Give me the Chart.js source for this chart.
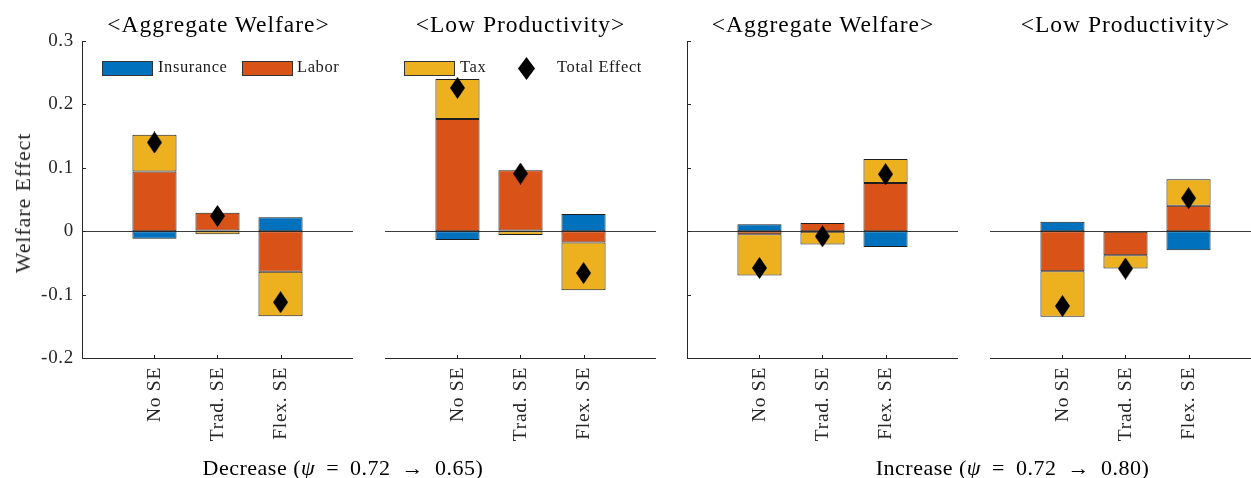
<!DOCTYPE html>
<html>
<head>
<meta charset="utf-8">
<script src="https://cdn.jsdelivr.net/npm/chart.js@4.4.1/dist/chart.umd.min.js"></script>
<style>
  html, body { margin: 0; padding: 0; background: #fff; overflow: hidden; width: 1251px; height: 478px; }
  body { position: relative; font-family: "Liberation Serif", "Times New Roman", serif; color: #1a1a1a; }
  canvas.panel { position: absolute; top: 0; }
  .txt { position: absolute; white-space: nowrap; line-height: 1; }
  .ttl { font-size: 23.5px; letter-spacing: 1px; top: 12.75px; transform: translateX(-50%); color: #000; }
  .xlab { font-size: 22px; letter-spacing: 0.5px; top: 457px; transform: translateX(-50%); color: #000; }
  .xlab .op { margin: 0 5px; }
  .ylab { font-size: 22px; letter-spacing: 0.9px; left: 22.5px; top: 203px; transform: translate(-50%, -50%) rotate(-90deg); color: #262626; }
  .leg { font-size: 16.5px; letter-spacing: 0.6px; top: 58.75px; }
  .sw { position: absolute; top: 61px; width: 49px; height: 13px; border: 1px solid #333; }
  svg.dia { position: absolute; }
</style>
</head>
<body>

<canvas id="p1" class="panel" width="363" height="478" style="left:0px"></canvas>
<canvas id="p2" class="panel" width="291" height="478" style="left:375px"></canvas>
<canvas id="p3" class="panel" width="291" height="478" style="left:677px"></canvas>
<canvas id="p4" class="panel" width="291" height="478" style="left:980px"></canvas>

<div class="txt ttl" style="left:218.5px">&lt;Aggregate Welfare&gt;</div>
<div class="txt ttl" style="left:520.5px">&lt;Low Productivity&gt;</div>
<div class="txt ttl" style="left:823px">&lt;Aggregate Welfare&gt;</div>
<div class="txt ttl" style="left:1125.5px">&lt;Low Productivity&gt;</div>

<div class="txt ylab">Welfare Effect</div>

<!-- legend spread across the two left panels -->
<div class="sw" style="left:102px; background:#0072BD"></div>
<div class="txt leg" style="left:158px">Insurance</div>
<div class="sw" style="left:242px; background:#D95319"></div>
<div class="txt leg" style="left:297px">Labor</div>
<div class="sw" style="left:404px; background:#EDB120"></div>
<div class="txt leg" style="left:460px">Tax</div>
<svg class="dia" width="17" height="23" style="left:517.5px; top:56.5px"><polygon points="8.5,0 17,11.5 8.5,23 0,11.5" fill="#000"/></svg>
<div class="txt leg" style="left:557px">Total Effect</div>

<div class="txt xlab" style="left:343px">Decrease (<i>ψ</i> <span class="op">=</span> 0.72 <span class="op">→</span> 0.65)</div>
<div class="txt xlab" style="left:1012.5px">Increase (<i>ψ</i> <span class="op">=</span> 0.72 <span class="op">→</span> 0.80)</div>

<script>
// Policy regimes on the horizontal axis
const categories = ['No SE', 'Trad. SE', 'Flex. SE'];
// Welfare-effect ticks
const yTicks = [-0.2, -0.1, 0, 0.1, 0.2, 0.3];

// Decrease (psi 0.72 -> 0.65), aggregate welfare
const decAggInsurance = [-0.012, 0.001, 0.022];
const decAggLabor     = [0.094, 0.028, -0.064];
const decAggTax       = [0.058, -0.005, -0.070];
const decAggTotal     = [0.140, 0.024, -0.112];

// Decrease (psi 0.72 -> 0.65), low productivity
const decLowInsurance = [-0.014, 0.001, 0.027];
const decLowLabor     = [0.177, 0.095, -0.018];
const decLowTax       = [0.063, -0.006, -0.075];
const decLowTotal     = [0.226, 0.091, -0.066];

// Increase (psi 0.72 -> 0.80), aggregate welfare
const incAggInsurance = [0.011, -0.001, -0.025];
const incAggLabor     = [-0.005, 0.013, 0.076];
const incAggTax       = [-0.065, -0.020, 0.038];
const incAggTotal     = [-0.058, -0.008, 0.090];

// Increase (psi 0.72 -> 0.80), low productivity
const incLowInsurance = [0.015, -0.001, -0.030];
const incLowLabor     = [-0.063, -0.037, 0.040];
const incLowTax       = [-0.072, -0.021, 0.042];
const incLowTotal     = [-0.118, -0.059, 0.052];

const COLORS = { insurance: '#0072BD', labor: '#D95319', tax: '#EDB120' };
const AXIS = '#262626';
const SERIF = '"Liberation Serif", "Times New Roman", serif';

// tall diamond marker for the total effect
const diamond = (() => {
  const c = document.createElement('canvas');
  c.width = 15; c.height = 22;
  const g = c.getContext('2d');
  g.fillStyle = '#000';
  g.beginPath();
  g.moveTo(7.5, 0); g.lineTo(15, 11); g.lineTo(7.5, 22); g.lineTo(0, 11);
  g.closePath(); g.fill();
  return c;
})();

// slightly wider tick lettering
const spacingPlugin = {
  id: 'tickSpacing',
  beforeLayout(chart) { chart.ctx.letterSpacing = '0.7px'; },
  beforeDraw(chart) { chart.ctx.letterSpacing = '0.7px'; }
};

// zero line, box-less axes with inward ticks
const axesPlugin = {
  id: 'panelAxes',
  beforeDatasetsDraw(chart) {
    const { ctx, chartArea: { left, right }, scales: { y } } = chart;
    const y0 = Math.round(y.getPixelForValue(0)) + 0.5;
    ctx.save();
    ctx.strokeStyle = '#3c3c3c';
    ctx.lineWidth = 1;
    ctx.beginPath(); ctx.moveTo(left, y0); ctx.lineTo(right, y0); ctx.stroke();
    ctx.restore();
  },
  afterDraw(chart, args, opts) {
    const { ctx, chartArea: { left, right, top, bottom }, scales: { x, y } } = chart;
    const b = Math.round(bottom) + 0.5;
    const l = Math.round(left) + 0.5;
    ctx.save();
    ctx.strokeStyle = AXIS;
    ctx.lineWidth = 1;
    ctx.beginPath();
    ctx.moveTo(left, b); ctx.lineTo(right, b);
    x.ticks.forEach(t => {
      const px = Math.round(x.getPixelForValue(t.value)) + 0.5;
      ctx.moveTo(px, b); ctx.lineTo(px, b - 3.5);
    });
    if (opts.yLine) {
      ctx.moveTo(l, b); ctx.lineTo(l, top);
      y.ticks.forEach(t => {
        const py = Math.round(y.getPixelForValue(t.value)) + 0.5;
        ctx.moveTo(l, py); ctx.lineTo(l + 3.5, py);
      });
    }
    ctx.stroke();
    ctx.restore();
  }
};

function buildPanel(id, insurance, labor, tax, total, cfg) {
  const pts = arr => arr.map((v, i) => ({ x: i + 1, y: v }));
  const bar = (label, arr, color) => ({
    type: 'bar', label, data: pts(arr), stack: 'parts',
    backgroundColor: color, borderColor: '#1e1e1e', borderWidth: 1,
    borderSkipped: false, barPercentage: 0.7, categoryPercentage: 1.0
  });
  return new Chart(document.getElementById(id), {
    type: 'bar',
    data: {
      datasets: [
        bar('Insurance', insurance, COLORS.insurance),
        bar('Labor', labor, COLORS.labor),
        bar('Tax', tax, COLORS.tax),
        {
          type: 'scatter', label: 'Total Effect', data: pts(total), stack: 'total',
          pointStyle: diamond, pointRadius: 8, pointHoverRadius: 8, order: -1
        }
      ]
    },
    options: {
      responsive: false,
      animation: false,
      devicePixelRatio: 1,
      layout: { padding: { left: cfg.padLeft, right: 10, top: 41, bottom: 0 } },
      plugins: { legend: { display: false }, tooltip: { enabled: false }, panelAxes: { yLine: cfg.yLine } },
      scales: {
        x: {
          type: 'linear', min: -0.15, max: 4.15, offset: false,
          grid: { display: false, drawTicks: false }, border: { display: false },
          afterBuildTicks: s => { s.ticks = categories.map((c, i) => ({ value: i + 1 })); },
          afterFit: s => { s.height = 120; },
          ticks: {
            autoSkip: false, minRotation: 90, maxRotation: 90, padding: 9,
            color: AXIS, font: { family: SERIF, size: 19.5 },
            callback: v => categories[Math.round(v) - 1] ?? ''
          }
        },
        y: {
          min: -0.2, max: 0.3, stacked: true,
          grid: { display: false, drawTicks: false }, border: { display: false },
          afterBuildTicks: s => { s.ticks = yTicks.map(v => ({ value: v })); },
          afterFit: s => { s.width = cfg.yWidth; },
          ticks: {
            display: cfg.yLabels, padding: 8, color: AXIS,
            font: { family: SERIF, size: 19 },
            callback: v => (Math.abs(v) < 1e-9 ? '0' : v.toFixed(1))
          }
        }
      }
    },
    plugins: [spacingPlugin, axesPlugin]
  });
}

buildPanel('p1', decAggInsurance, decAggLabor, decAggTax, decAggTotal, { padLeft: 0, yWidth: 82, yLabels: true, yLine: true });
buildPanel('p2', decLowInsurance, decLowLabor, decLowTax, decLowTotal, { padLeft: 10, yWidth: 0, yLabels: false, yLine: false });
buildPanel('p3', incAggInsurance, incAggLabor, incAggTax, incAggTotal, { padLeft: 10, yWidth: 0, yLabels: false, yLine: true });
buildPanel('p4', incLowInsurance, incLowLabor, incLowTax, incLowTotal, { padLeft: 10, yWidth: 0, yLabels: false, yLine: false });
</script>
</body>
</html>
